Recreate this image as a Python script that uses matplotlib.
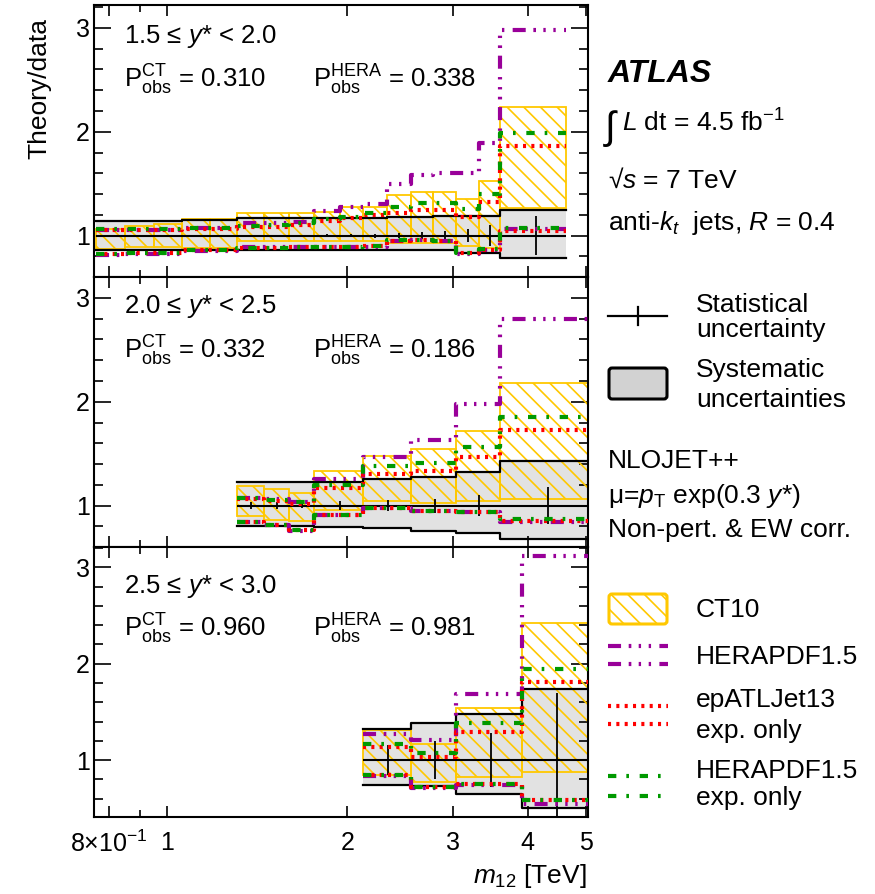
import numpy as np
import matplotlib
matplotlib.use("Agg")
import matplotlib.pyplot as plt
from matplotlib.patches import FancyBboxPatch

plt.rcParams["font.family"] = ["Liberation Sans", "DejaVu Sans"]
plt.rcParams["mathtext.fontset"] = "custom"
plt.rcParams["mathtext.rm"] = "Liberation Sans"
plt.rcParams["mathtext.it"] = "Liberation Sans:italic"
plt.rcParams["mathtext.bf"] = "Liberation Sans:bold"
plt.rcParams["lines.scale_dashes"] = False
plt.rcParams["hatch.linewidth"] = 1.2

# ---- 1.5 <= y* < 2.0 ----
edges_1 = [0.76, 0.85, 0.95, 1.06, 1.18, 1.31, 1.45, 1.6, 1.76, 1.94, 2.12,
           2.33, 2.55, 2.78, 3.04, 3.31, 3.6, 4.64]
sys_up_1 = [1.145, 1.145, 1.145, 1.155, 1.155, 1.165, 1.165, 1.165, 1.165,
            1.165, 1.165, 1.175, 1.18, 1.185, 1.185, 1.19, 1.25]
sys_dn_1 = [0.862, 0.862, 0.862, 0.865, 0.865, 0.857, 0.857, 0.857, 0.857,
            0.857, 0.857, 0.857, 0.857, 0.857, 0.834, 0.834, 0.786]
stat_1 = [0.005, 0.005, 0.005, 0.006, 0.006, 0.008, 0.009, 0.010, 0.012,
          0.015, 0.02, 0.025, 0.03, 0.045, 0.065, 0.10, 0.19]
ct10_lo_1 = [0.87, 0.89, 0.89, 0.88, 0.88, 0.95, 0.95, 0.95, 0.95, 0.95,
             0.95, 0.93, 0.93, 0.93, 0.90, 0.88, 1.27]
ct10_hi_1 = [1.065, 1.09, 1.11, 1.16, 1.16, 1.22, 1.22, 1.22, 1.23, 1.28,
             1.28, 1.39, 1.42, 1.42, 1.35, 1.53, 2.24]
hera_up_1 = [1.055, 1.055, 1.055, 1.07, 1.07, 1.12, 1.12, 1.13, 1.24, 1.28,
             1.30, 1.50, 1.58, 1.60, 1.60, 1.89, 2.98]
hera_dn_1 = [0.815, 0.82, 0.82, 0.855, 0.855, 0.89, 0.89, 0.89, 0.89, 0.89,
             0.89, 0.95, 0.96, 0.95, 0.82, 0.86, 1.06]
epatl_up_1 = [1.05, 1.05, 1.05, 1.06, 1.06, 1.08, 1.08, 1.10, 1.14, 1.17,
              1.20, 1.22, 1.25, 1.25, 1.18, 1.32, 1.86]
epatl_dn_1 = [0.82, 0.83, 0.83, 0.86, 0.86, 0.88, 0.88, 0.89, 0.89, 0.89,
              0.90, 0.95, 0.96, 0.95, 0.83, 0.86, 1.04]
heraexp_up_1 = [1.06, 1.06, 1.06, 1.07, 1.07, 1.09, 1.10, 1.12, 1.16, 1.18,
                1.22, 1.28, 1.31, 1.31, 1.26, 1.40, 1.99]
heraexp_dn_1 = [0.82, 0.83, 0.83, 0.86, 0.86, 0.88, 0.88, 0.89, 0.89, 0.89,
                0.90, 0.96, 0.96, 0.95, 0.83, 0.87, 1.07]

# ---- 2.0 <= y* < 2.5 ----
edges_2 = [1.31, 1.45, 1.6, 1.76, 2.12, 2.55, 3.04, 3.6, 5.04]
sys_up_2 = [1.224, 1.224, 1.224, 1.224, 1.256, 1.28, 1.32, 1.426]
sys_dn_2 = [0.808, 0.808, 0.808, 0.795, 0.785, 0.753, 0.737, 0.68]
stat_2 = [0.03, 0.03, 0.025, 0.04, 0.05, 0.067, 0.105, 0.175]
ct10_lo_2 = [0.897, 0.865, 0.85, 0.96, 1.04, 1.026, 1.04, 1.064]
ct10_hi_2 = [1.186, 1.155, 1.12, 1.33, 1.475, 1.548, 1.72, 2.18]
hera_up_2 = [1.074, 1.06, 1.035, 1.256, 1.47, 1.635, 1.98, 2.80]
hera_dn_2 = [0.84, 0.81, 0.76, 0.905, 0.975, 0.946, 0.94, 0.84]
epatl_up_2 = [1.065, 1.045, 1.02, 1.17, 1.30, 1.33, 1.47, 1.73]
epatl_dn_2 = [0.84, 0.81, 0.765, 0.905, 0.975, 0.946, 0.94, 0.855]
heraexp_up_2 = [1.07, 1.05, 1.03, 1.20, 1.38, 1.41, 1.56, 1.85]
heraexp_dn_2 = [0.84, 0.81, 0.765, 0.905, 0.975, 0.946, 0.94, 0.87]

# ---- 2.5 <= y* < 3.0 ----
edges_3 = [2.12, 2.55, 3.04, 3.91, 5.04]
sys_up_3 = [1.328, 1.38, 1.475, 1.74]
sys_dn_3 = [0.74, 0.73, 0.65, 0.50]
stat_3 = [0.155, 0.2, 0.28, 0.70]
ct10_lo_3 = [0.85, 0.77, 0.83, 0.88]
ct10_hi_3 = [1.31, 1.17, 1.54, 2.42]
hera_up_3 = [1.27, 1.21, 1.69, 3.12]
hera_dn_3 = [0.84, 0.71, 0.74, 0.55]
epatl_up_3 = [1.14, 1.035, 1.29, 1.81]
epatl_dn_3 = [0.845, 0.72, 0.75, 0.585]
heraexp_up_3 = [1.17, 1.076, 1.39, 1.95]
heraexp_dn_3 = [0.845, 0.72, 0.75, 0.585]

ystar_labels = ["1.5 ≤ $y$* < 2.0", "2.0 ≤ $y$* < 2.5", "2.5 ≤ $y$* < 3.0"]
p_ct = ["0.310", "0.332", "0.960"]
p_hera = ["0.338", "0.186", "0.981"]

GREY = "#e2e2e2"
GOLD = "#ffc800"
HATCH = "\\\\"
STYLES = {
    "hera": dict(color="#990099", dashes=[9.4, 5.5, 1.9, 5.3, 1.7, 5.5, 1.7, 6.0]),
    "epatl": dict(color="#ff0000", dashes=[2.2, 3.8]),
    "heraexp": dict(color="#009900", dashes=[6.0, 7.2, 1.9, 7.7]),
}
LW = 3.0

panels = [
    dict(edges=edges_1, up=sys_up_1, dn=sys_dn_1, stat=stat_1, ct_lo=ct10_lo_1, ct_hi=ct10_hi_1,
         preds=[("hera", hera_up_1, hera_dn_1), ("epatl", epatl_up_1, epatl_dn_1),
                ("heraexp", heraexp_up_1, heraexp_dn_1)],
         ylim=(0.606, 3.22), rect=[0.1074, 0.690, 0.5646, 0.3043], txt=(0.859, 0.697)),
    dict(edges=edges_2, up=sys_up_2, dn=sys_dn_2, stat=stat_2, ct_lo=ct10_lo_2, ct_hi=ct10_hi_2,
         preds=[("hera", hera_up_2, hera_dn_2), ("epatl", epatl_up_2, epatl_dn_2),
                ("heraexp", heraexp_up_2, heraexp_dn_2)],
         ylim=(0.606, 3.20), rect=[0.1074, 0.388, 0.5646, 0.302], txt=(0.866, 0.699)),
    dict(edges=edges_3, up=sys_up_3, dn=sys_dn_3, stat=stat_3, ct_lo=ct10_lo_3, ct_hi=ct10_hi_3,
         preds=[("hera", hera_up_3, hera_dn_3), ("epatl", epatl_up_3, epatl_dn_3),
                ("heraexp", heraexp_up_3, heraexp_dn_3)],
         ylim=(0.41, 3.21), rect=[0.1074, 0.0861, 0.5646, 0.302], txt=(0.829, 0.668)),
]


def stepped(vals):
    return np.append(vals, vals[-1])


fig = plt.figure(figsize=(8.75, 8.94), dpi=100)

for i, p in enumerate(panels):
    ax = fig.add_axes(p["rect"])
    ax.set_xscale("log")
    e = np.array(p["edges"])
    up, dn = np.array(p["up"]), np.array(p["dn"])
    lo, hi = np.array(p["ct_lo"]), np.array(p["ct_hi"])
    stat = np.array(p["stat"])

    # systematic band, CT10 hatched band
    ax.bar(e[:-1], up - dn, np.diff(e), bottom=dn, align="edge", color=GREY, lw=0, zorder=1)
    ax.bar(e[:-1], hi - lo, np.diff(e), bottom=lo, align="edge", fill=False, hatch=HATCH,
           edgecolor=GOLD, lw=1.3, zorder=2)
    for v in (up, dn):
        ax.step(e, stepped(v), where="post", color="k", lw=1.6, zorder=3)

    # data at unity with statistical errors
    centers = 0.5 * (e[:-1] + e[1:])
    ax.hlines(1.0, e[0], e[-1], color="k", lw=1.5, zorder=3)
    ax.vlines(centers, 1 - stat, 1 + stat, color="k", lw=1.3, zorder=3)

    for key, pu, pd in p["preds"]:
        for v in (pu, pd):
            ax.step(e, stepped(v), where="post", lw=LW, zorder=4, **STYLES[key])

    ax.set_xlim(0.755, 5.04)
    ax.set_ylim(*p["ylim"])
    ax.set_xticks([0.8, 1, 2, 3, 4, 5])
    ax.set_xticks([0.9], minor=True)
    ax.set_xticklabels(["8×10$^{-1}$", "1", "2", "3", "4", "5"])
    ax.set_yticks([1, 2, 3])
    ax.set_yticklabels(["1", "2", "3"])
    ax.set_yticks([t for t in np.arange(0.6, 3.25, 0.2) if abs(t - round(t)) > 0.05], minor=True)
    ax.tick_params(which="both", direction="in", top=True, right=True, labelsize=18)
    ax.tick_params(axis="y", which="major", length=12, width=1.2, pad=3)
    ax.tick_params(axis="y", which="minor", length=6.5, width=1.2)
    ax.tick_params(axis="x", which="major", length=8, width=1.2, pad=10)
    ax.tick_params(axis="x", which="minor", length=5, width=1.2)
    if i < 2:
        ax.tick_params(axis="x", labelbottom=False)
    for s in ax.spines.values():
        s.set_linewidth(1.5)

    ty, py = p["txt"]
    ax.text(0.061, ty, ystar_labels[i], transform=ax.transAxes, fontsize=18.5, va="baseline")
    ax.text(0.061, py, r"$\mathrm{P^{CT}_{obs}}$ = " + p_ct[i], transform=ax.transAxes,
            fontsize=18.5, va="baseline")
    ax.text(0.443, py, r"$\mathrm{P^{HERA}_{obs}}$ = " + p_hera[i], transform=ax.transAxes,
            fontsize=18.5, va="baseline")

fig.text(39 / 875, 1 - 18 / 894, "Theory/data", rotation=90, ha="center", va="top", fontsize=19)
fig.text(587 / 875, 1 - 883 / 894, "$m_{12}$ [TeV]", ha="right", va="baseline", fontsize=19)

# right-hand side: labels and legend, in pixel coordinates
lg = fig.add_axes([588 / 875, 0, 287 / 875, 1])
lg.set_xlim(588, 875)
lg.set_ylim(894, 0)
lg.axis("off")

lg.text(608, 81.7, "ATLAS", fontsize=23, fontweight="bold", fontstyle="italic", va="baseline")
lg.text(605, 139, "∫", fontsize=28, va="baseline")
lg.text(622, 131.7, "$L$ dt = 4.5 fb$^{-1}$", fontsize=19, va="baseline")
lg.text(608, 188, "√$s$ = 7 TeV", fontsize=19, va="baseline")
lg.text(608, 230, "anti-$k_{t}$  jets, $R$ = 0.4", fontsize=19, va="baseline")

lg.plot([608, 667], [316, 316], color="k", lw=1.6)
lg.plot([638, 638], [307, 325], color="k", lw=1.6)
lg.text(696, 311.7, "Statistical", fontsize=19, va="baseline")
lg.text(696, 336.7, "uncertainty", fontsize=19, va="baseline")

lg.add_patch(FancyBboxPatch((609, 368), 58, 31, boxstyle="round,pad=0,rounding_size=3",
                            facecolor="#d2d2d2", edgecolor="k", lw=2.2))
lg.text(696, 376.7, "Systematic", fontsize=19, va="baseline")
lg.text(696, 406.7, "uncertainties", fontsize=19, va="baseline")

lg.text(608, 468, "NLOJET++", fontsize=19, va="baseline")
lg.text(608, 503, "μ=$p_{\\mathrm{T}}$ exp(0.3 $y$*)", fontsize=19, va="baseline")
lg.text(608, 537, "Non-pert. & EW corr.", fontsize=19, va="baseline")

lg.add_patch(FancyBboxPatch((609, 594), 58, 30, boxstyle="round,pad=0,rounding_size=3",
                            facecolor="none", edgecolor=GOLD, hatch=HATCH, lw=2.2))
lg.text(696, 617, "CT10", fontsize=19, va="baseline")

for key, ys in (("hera", (646, 664)), ("epatl", (706, 724)), ("heraexp", (776, 796))):
    for yy in ys:
        lg.plot([608, 668], [yy, yy], lw=LW, **STYLES[key])
lg.text(696, 664, "HERAPDF1.5", fontsize=19, va="baseline")
lg.text(696, 706.7, "epATLJet13", fontsize=19, va="baseline")
lg.text(696, 738, "exp. only", fontsize=19, va="baseline")
lg.text(696, 778, "HERAPDF1.5", fontsize=19, va="baseline")
lg.text(696, 805, "exp. only", fontsize=19, va="baseline")

fig.savefig("out.png", dpi=100)
